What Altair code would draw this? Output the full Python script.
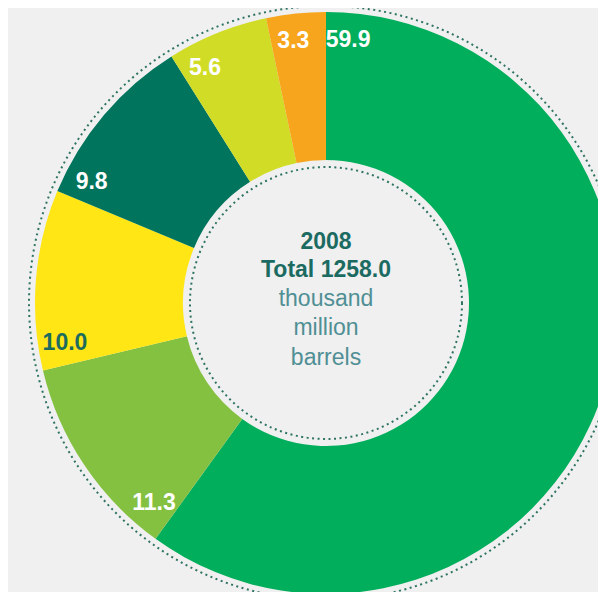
import altair as alt
import pandas as pd

regions = ["Middle East", "Europe & Eurasia", "Africa", "S. & Cent. America", "North America", "Asia Pacific"]
shares = [59.9, 11.3, 10.0, 9.8, 5.6, 3.3]
slice_colors = ["#00ae5c", "#84c141", "#ffe614", "#00745c", "#d1dc26", "#f7a51c"]
label_colors = ["#ffffff", "#ffffff", "#1b6b5e", "#ffffff", "#ffffff", "#ffffff"]
center_lines = ["2008", "Total 1258.0", "thousand", "million", "barrels"]
center_bold = [True, True, False, False, False]

BG = "#eff0ef"
CX, CY = 318, 295
W, H = 590, 584

df = pd.DataFrame({
    "region": regions,
    "share": shares,
    "order": list(range(len(regions))),
    "labelcolor": label_colors,
})

arcs = alt.Chart(df).mark_arc(innerRadius=143, outerRadius=291).encode(
    theta=alt.Theta("share:Q", stack=True),
    color=alt.Color("region:N", scale=alt.Scale(domain=regions, range=slice_colors), legend=None),
    order=alt.Order("order:Q"),
    x=alt.value(CX),
    y=alt.value(CY),
)

labels = alt.Chart(df).transform_window(
    cum="sum(share)", sort=[alt.SortField("order")], frame=[None, 0]
).transform_joinaggregate(
    total="sum(share)"
).transform_calculate(
    pos="datum.cum - datum.share + 0.0133 * datum.total",
    txt="format(datum.share, '.1f')",
).mark_text(
    radius=264, fontSize=23, fontWeight="bold", font="Liberation Sans",
    dx=CX - W / 2, dy=CY - H / 2, baseline="middle", align="center",
).encode(
    theta=alt.Theta("pos:Q", stack=None),
    text="txt:N",
    color=alt.Color("labelcolor:N", scale=None),
)

dummy = pd.DataFrame({"a": [0]})

def ring(diam):
    return alt.Chart(dummy).mark_point(
        shape="circle", filled=False, stroke="#2f7463", strokeWidth=2,
        strokeDash=[2, 3.5], opacity=1,
    ).encode(x=alt.value(CX), y=alt.value(CY), size=alt.value(diam * diam))

outer_ring = ring(594)
inner_ring = ring(272)

center_y = [234, 262, 291, 320, 350]
center_layers = []
for txt, bold, yy in zip(center_lines, center_bold, center_y):
    center_layers.append(
        alt.Chart(dummy).mark_text(
            text=txt, fontSize=23, font="Liberation Sans",
            fontWeight="bold" if bold else "normal",
            color="#1c6b62" if bold else "#4f8f95",
            align="center", baseline="middle",
        ).encode(x=alt.value(CX), y=alt.value(yy))
    )

chart = alt.layer(arcs, outer_ring, inner_ring, labels, *center_layers).properties(
    width=W, height=H, padding=0, autosize=alt.AutoSizeParams(type="none"),
    background=BG,
).configure_view(stroke=None, fill=BG)

chart.save("out.html", embed_options={"renderer": "svg", "actions": False})
